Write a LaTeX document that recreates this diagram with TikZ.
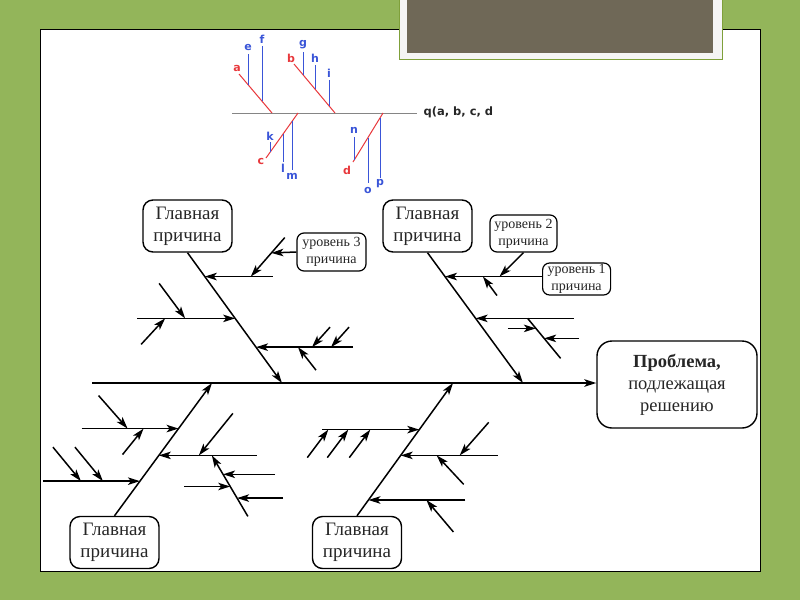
\documentclass[tikz,border=0pt]{standalone}
\usepackage{fontspec}
\setmainfont{Liberation Serif}
\newfontfamily\lblfont{DejaVu Sans}
\usetikzlibrary{arrows.meta,calc}

\definecolor{bggreen}{HTML}{93B55A}
\definecolor{slidegray}{HTML}{6F6857}
\definecolor{framegreen}{HTML}{7FA03A}
\definecolor{qred}{HTML}{E8383C}
\definecolor{qblue}{HTML}{3A55D8}
\definecolor{qgray}{HTML}{858585}

\tikzset{
  bone/.style={line width=1.5pt, -{Stealth[length=12pt,width=7.5pt,inset=3pt]}},
  twig/.style={line width=1.5pt},
  causebox/.style={draw, line width=1.4pt, rounded corners=10pt, align=center, inner sep=0pt,
    minimum width=89pt, minimum height=52pt, text=black!85, font=\fontsize{19}{22}\selectfont},
  levelbox/.style={draw, line width=1.2pt, rounded corners=7pt, align=center, inner sep=0pt,
    text=black!85, font=\fontsize{14}{17}\selectfont},
  redline/.style={qred, line width=1pt},
  blueline/.style={qblue, line width=1pt},
  redlbl/.style={qred, font=\lblfont\bfseries\fontsize{11}{11}\selectfont},
  bluelbl/.style={qblue, font=\lblfont\bfseries\fontsize{11}{11}\selectfont},
}

\begin{document}
\begin{tikzpicture}[x=1pt, y=-1pt]
    \useasboundingbox (0,0) rectangle (800,600);

    % Slide
    \fill[bggreen] (0,0) rectangle (800,600);
    \draw[fill=white, line width=1pt] (40,29) rectangle (760,571);
    \draw[framegreen, fill=black!4, line width=0.8pt] (399,-2) rectangle (722,59);
    \fill[slidegray] (407,-2) rectangle (713,53);

    % Formula sketch
    \draw[qgray, line width=1pt] (232,113) -- (417,113);
    \node[anchor=west, font=\lblfont\bfseries\fontsize{11.5}{11.5}\selectfont, text=black!85] (qtext) at (420,112) {q(a, b, c, d};

    \draw[redline] (239,74) -- (272,113);
    \draw[redline] (294,64) -- (335,113);
    \draw[redline] (298,113) -- (266,158);
    \draw[redline] (383,113) -- (353,162);
    \node[redlbl] (la) at (237,68) {a};
    \node[redlbl] (lb) at (291,58) {b};
    \node[redlbl] (lc) at (261,161) {c};
    \node[redlbl] (ld) at (347,170) {d};

    % blue lines: x / top / bottom / label / label y
    \foreach \x/\yt/\yb/\t/\ly in {248/54/84.6/e/47, 262/46/101/f/39, 303/52/75/g/45, 315/65/89/h/58,
                                  329/80/106/i/73, 270/142/152/k/136, 283/134/162/l/168, 292/121.4/170/m/176,
                                  354/137/160/n/130, 368/137.5/183/o/190, 380/118/178/p/184} {
        \draw[blueline] (\x,\yt) -- (\x,\yb);
        \node[bluelbl] (l\t) at (\x,\ly) {\t};
    }

    % Problem and spine
    \node[causebox, minimum width=160pt, minimum height=87pt, rounded corners=15pt,
          font=\fontsize{18.5}{22}\selectfont] (problem) at (677,384.5) {\textbf{Проблема,}\\подлежащая\\решению};
    \coordinate (tail) at (92,383);
    \draw[bone] (tail) -- (tail -| problem.west);

    % Main cause 1 (top left)
    \node[causebox] (c1) at (187.5,226) {Главная\\причина};
    \coordinate (c1end) at (282,383);
    \draw[bone] (c1.south) -- (c1end);
    \coordinate (c1a) at ($(c1.south)!0.183!(c1end)$);
    \coordinate (c1b) at ($(c1.south)!0.504!(c1end)$);
    \coordinate (c1c) at ($(c1.south)!0.725!(c1end)$);
    \draw[bone] ($(c1a)+(68,0)$) -- (c1a);
    \coordinate (c1a1) at ($(c1a)+(46,0)$);
    \coordinate (c1a2) at ($(c1a1)+(34,-39)$);
    \draw[bone] (c1a2) -- (c1a1);
    \node[levelbox, minimum width=69pt, minimum height=38pt] (lev3) at (331.5,252) {уровень 3\\причина};
    \draw[bone] (lev3.west) -- ($(c1a2)!0.395!(c1a1)$);
    \draw[bone] ($(c1b)+(-98,0)$) -- (c1b);
    \draw[bone] ($(c1b)+(-76,-35)$) -- ($(c1b)+(-50,0)$);
    \draw[bone] ($(c1b)+(-94,26)$) -- ($(c1b)+(-70,0)$);
    \draw[bone] ($(c1c)+(97,0)$) -- (c1c);
    \foreach \dx in {56,75} {
        \draw[bone] ($(c1c)+(\dx+18,-20)$) -- ($(c1c)+(\dx,0)$);
    }
    \draw[bone] ($(c1c)+(60,23)$) -- ($(c1c)+(42,0)$);

    % Main cause 2 (top right)
    \node[causebox] (c2) at (427.5,226) {Главная\\причина};
    \coordinate (c2end) at (523,383);
    \draw[bone] (c2.south) -- (c2end);
    \coordinate (c2a) at ($(c2.south)!0.183!(c2end)$);
    \coordinate (c2b) at ($(c2.south)!0.504!(c2end)$);
    \node[levelbox, minimum width=68pt, minimum height=32pt, anchor=west] (lev1) at (542,279) {уровень 1\\причина};
    \node[levelbox, minimum width=67pt, minimum height=37pt] (lev2) at (523.5,233.5) {уровень 2\\причина};
    \draw[bone] (c2a -| lev1.west) -- (c2a);
    \draw[bone] (lev2.south) -- ($(c2a)+(54.5,0)$);
    \draw[bone] ($(c2a)+(52,19)$) -- ($(c2a)+(38,0)$);
    \draw[bone] ($(c2b)+(98,0)$) -- (c2b);
    \coordinate (c2t0) at ($(c2b)+(52,0)$);
    \coordinate (c2t1) at ($(c2t0)+(33,40)$);
    \draw[twig] (c2t0) -- (c2t1);
    \draw[bone] ($($(c2t0)!0.25!(c2t1)$)+(-28,0)$) -- ($(c2t0)!0.25!(c2t1)$);
    \draw[bone] ($($(c2t0)!0.5!(c2t1)$)+(35,0)$) -- ($(c2t0)!0.5!(c2t1)$);

    % Main cause 3 (bottom left)
    \node[causebox] (c3) at (114.5,542.5) {Главная\\причина};
    \coordinate (c3end) at (212,383);
    \draw[bone] (c3.north) -- (c3end);
    \coordinate (c3a) at ($(c3.north)!0.657!(c3end)$);
    \coordinate (c3b) at ($(c3.north)!0.455!(c3end)$);
    \coordinate (c3c) at ($(c3.north)!0.261!(c3end)$);
    \draw[bone] ($(c3a)+(-97,0)$) -- (c3a);
    \draw[bone] ($(c3a)+(-80,-33)$) -- ($(c3a)+(-51,0)$);
    \draw[bone] ($(c3a)+(-56,26)$) -- ($(c3a)+(-35,0)$);
    \draw[bone] ($(c3b)+(98,0)$) -- (c3b);
    \draw[bone] ($(c3b)+(74,-42)$) -- ($(c3b)+(40,0)$);
    \coordinate (c3s0) at ($(c3b)+(53,0)$);
    \coordinate (c3s1) at ($(c3s0)+(36,61)$);
    \draw[bone] (c3s1) -- (c3s0);
    \draw[bone] ($($(c3s0)!0.31!(c3s1)$)+(52,0)$) -- ($(c3s0)!0.31!(c3s1)$);
    \draw[bone] ($($(c3s0)!0.51!(c3s1)$)+(-46,0)$) -- ($(c3s0)!0.51!(c3s1)$);
    \draw[bone] ($($(c3s0)!0.70!(c3s1)$)+(46,0)$) -- ($(c3s0)!0.70!(c3s1)$);
    \draw[bone] ($(c3c)+(-97,0)$) -- (c3c);
    \foreach \dx in {-59,-37} {
        \draw[bone] ($(c3c)+(\dx-28,-34)$) -- ($(c3c)+(\dx,0)$);
    }

    % Main cause 4 (bottom right)
    \node[causebox] (c4) at (357,542.5) {Главная\\причина};
    \coordinate (c4end) at (453,383);
    \draw[bone] (c4.north) -- (c4end);
    \coordinate (c4a) at ($(c4.north)!0.649!(c4end)$);
    \coordinate (c4b) at ($(c4.north)!0.455!(c4end)$);
    \coordinate (c4c) at ($(c4.north)!0.119!(c4end)$);
    \draw[bone] ($(c4a)+(-97,0)$) -- (c4a);
    \foreach \dx in {-91,-71,-49} {
        \draw[bone] ($(c4a)+(\dx-21,28)$) -- ($(c4a)+(\dx,0)$);
    }
    \draw[bone] ($(c4b)+(97,0)$) -- (c4b);
    \draw[bone] ($(c4b)+(88,-33)$) -- ($(c4b)+(59,0)$);
    \draw[bone] ($(c4b)+(63,29)$) -- ($(c4b)+(36,0)$);
    \draw[bone] ($(c4c)+(97,0)$) -- (c4c);
    \draw[bone] ($(c4c)+(85,32)$) -- ($(c4c)+(58,0)$);
\end{tikzpicture}
\end{document}
